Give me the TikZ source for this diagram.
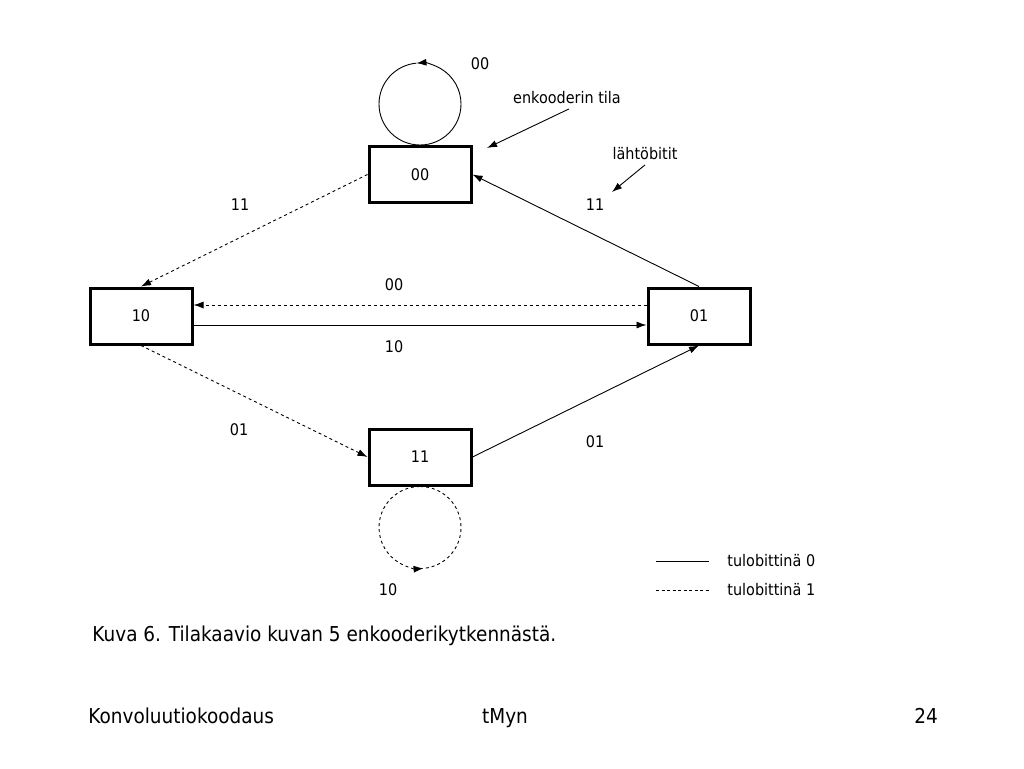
\documentclass[tikz,border=0pt]{standalone}
\usepackage{fontspec}
\setmainfont{DejaVu Sans}[FakeStretch=0.9]
\usepackage{tikz}
\usetikzlibrary{arrows.meta}
\usetikzlibrary{positioning}

\tikzset{
  tila/.style={draw, line width=3pt, minimum width=102pt, minimum height=56pt, inner sep=0pt, font=\fontsize{16}{18}\selectfont},
  merkki/.style={font=\fontsize{16}{18}\selectfont, inner sep=1pt, text height=2ex, text depth=0ex},
  teksti/.style={font=\fontsize{20.5}{24}\selectfont, inner sep=0pt, text height=2ex, text depth=0ex},
  >={Latex[length=10pt,width=7pt]}
}

\begin{document}
\begin{tikzpicture}[x=1pt,y=1pt,line width=0.9pt]
      \useasboundingbox (0,0) rectangle (1024,-768);

      \node[tila] (s00) at (420,-174.5) {00};
      \node[tila] (s10) at (141,-316) {10};
      \node[tila] (s01) at (699,-316) {01};
      \node[tila] (s11) at (420,-457) {11};

      % silmukat
      \draw[->] (s00.north) arc[start angle=-90, end angle=95, radius=41];
      \draw (s00.north) arc[start angle=-90, end angle=-265, radius=41];
      \draw[dashed,->] (s11.south) arc[start angle=90, end angle=275, radius=41];
      \draw[dashed] (s11.south) arc[start angle=90, end angle=-85, radius=41];

      \draw[dashed,->] (s00.west) to (s10.north);
      \draw[->] (s01.north) to (s00.east);
      \draw[dashed,->] ([yshift=11pt]s01.west) to ([yshift=11pt]s10.east);
      \draw[->] ([yshift=-9pt]s10.east) to ([yshift=-9pt]s01.west);
      \draw[dashed,->] (s10.south) to (s11.west);
      \draw[->] (s11.east) to (s01.south);

      \node[merkki] (l00a) at (480,-64) {00};
      \node[merkki] (l11a) at (240,-205) {11};
      \node[merkki] (l11b) at (595,-205) {11};
      \node[merkki] (l00b) at (394,-285) {00};
      \node[merkki] (l10a) at (394,-347) {10};
      \node[merkki] (l01a) at (239,-430) {01};
      \node[merkki] (l01b) at (595,-442) {01};
      \node[merkki] (l10b) at (388,-590) {10};

      % selitteet
      \node[merkki] (enk) at (567,-98) {enkooderin tila};
      \coordinate (enkpaa) at (487,-148);
      \draw[->] ([xshift=2pt,yshift=-4pt]enk.south) to (enkpaa);
      \node[merkki] (laht) at (645,-154) {lähtöbitit};
      \coordinate (lahtpaa) at (612,-192);
      \draw[->] ([yshift=-4pt]laht.south) to (lahtpaa);

      % legenda
      \coordinate (v0a) at (656,-561); \coordinate (v0b) at (709,-561);
      \coordinate (v1a) at (656,-590); \coordinate (v1b) at (709,-590);
      \draw[line width=0.6pt] (v0a) to (v0b);
      \draw[line width=0.6pt, dash pattern=on 3pt off 2.5pt] (v1a) to (v1b);
      \node[merkki, anchor=west] (t0) at (726,-561) {tulobittinä 0};
      \node[merkki, anchor=west] (t1) at (726,-590) {tulobittinä 1};

      \node[teksti, anchor=west] (kuva) at (92,-636) {Kuva 6. Tilakaavio kuvan 5 enkooderikytkennästä.};

      \node[teksti, anchor=west] (ala1) at (88,-718) {Konvoluutiokoodaus};
      \node[teksti] (ala2) at (505,-718) {tMyn};
      \node[teksti] (ala3) at (926,-718) {24};
    \end{tikzpicture}
\end{document}
